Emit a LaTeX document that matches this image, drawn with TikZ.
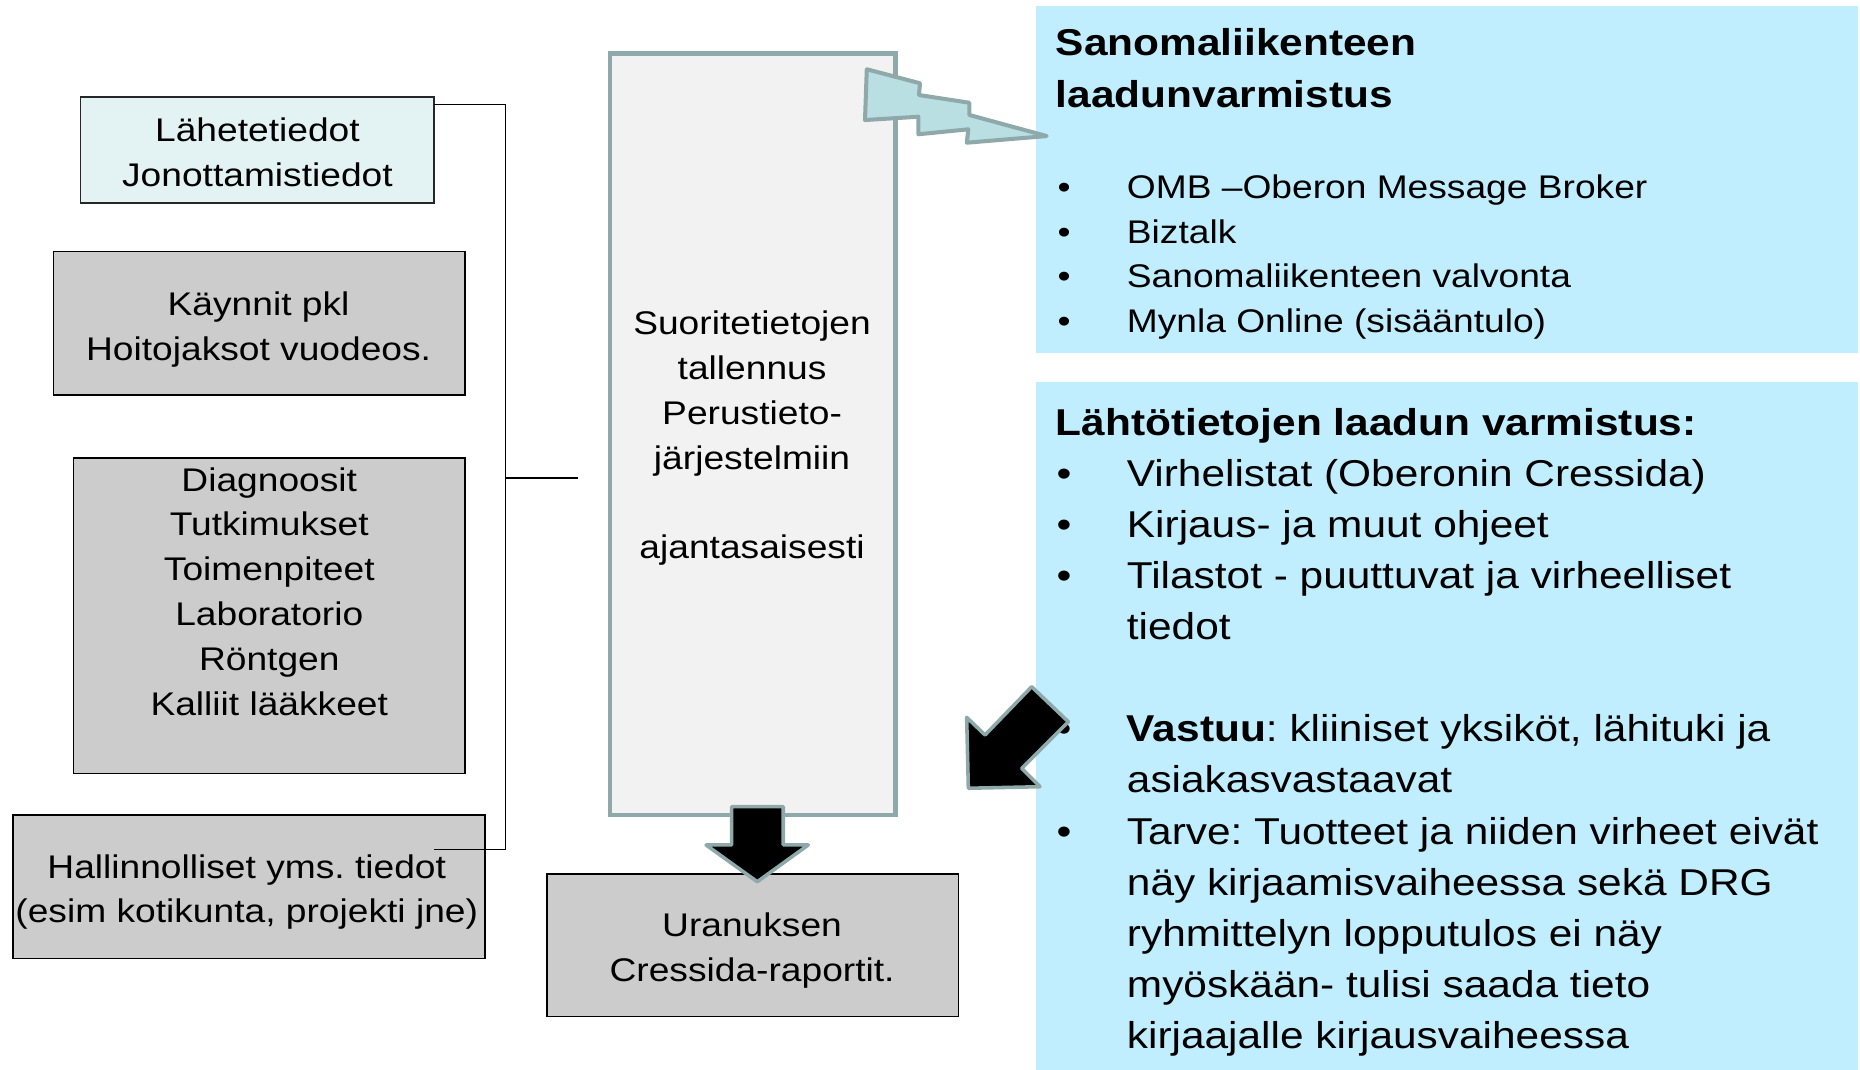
\documentclass[tikz,border=0pt]{standalone}
\usepackage{fontspec}
\setmainfont{Liberation Sans}[FakeStretch=1.135]
\definecolor{panelblue}{RGB}{192,238,254}
\definecolor{boxgray}{RGB}{204,204,204}
\definecolor{lightcyan}{RGB}{227,243,243}
\definecolor{centerfill}{RGB}{242,242,242}
\definecolor{tealedge}{RGB}{143,169,171}
\definecolor{boltfill}{RGB}{185,223,227}
\frenchspacing
\begin{document}
\frenchspacing
\begin{tikzpicture}[x=1pt,y=-1pt,
  smallfont/.style={font=\fontsize{27.6}{37.8}\selectfont},
  bigfont/.style={font=\fontsize{31.5}{43}\selectfont},
  titlefont/.style={font=\fontsize{31.5}{44.5}\selectfont\bfseries},
  txt/.style={inner sep=0, outer sep=0, anchor=base, align=center},
  ltxt/.style={inner sep=0, outer sep=0, anchor=base west, align=left},
  bul/.style={inner sep=0, outer sep=0, anchor=base},
  gbox/.style={draw=black, line width=1.4, fill=boxgray, inner sep=0, outer sep=0, anchor=north west},
  cbox/.style={draw=black!85, line width=1.4, fill=lightcyan, inner sep=0, outer sep=0, anchor=north west},
  mainbox/.style={draw=tealedge, line width=3.6, fill=centerfill, inner sep=0, outer sep=0, anchor=north west},
  panel/.style={fill=panelblue, inner sep=0, outer sep=0, anchor=north west},
  conn/.style={draw=black, line width=1.3},
  blockarrow/.style={fill=black, draw=tealedge, line width=3, line join=round},
  bolt/.style={fill=boltfill, draw=tealedge, line width=3.4, line join=round}
]
\useasboundingbox (0,0) rectangle (1568,902);

% right panels
\node[panel, minimum width=693, minimum height=293] (p1) at (873,5) {};
\node[panel, minimum width=693, minimum height=580] (p2) at (873,322) {};

% left boxes (text nodes anchored at the baseline of their last line)
\node[cbox, minimum width=298, minimum height=89] (lah) at (68,82) {};
\node[txt, smallfont] (laht) at (217,157) {Lähetetiedot\\Jonottamistiedot};

\node[gbox, minimum width=347, minimum height=121] (kay) at (45,212) {};
\node[txt, smallfont] (kayt) at (218,304) {Käynnit pkl\\Hoitojaksot vuodeos.};

\node[gbox, minimum width=330, minimum height=266] (dia) at (62,386) {};
\node[txt, smallfont] (diat) at (227,603) {Diagnoosit\\Tutkimukset\\Toimenpiteet\\Laboratorio\\Röntgen\\Kalliit lääkkeet};

\node[gbox, minimum width=398, minimum height=121] (hal) at (11,687) {};
\node[txt, smallfont] (halt) at (208,778) {Hallinnolliset yms. tiedot\\(esim kotikunta, projekti jne)};

% bracket connector
\coordinate (brtop) at (426,88);
\coordinate (brbot) at (426,716);
\coordinate (brmid) at (426,403);
\coordinate (tickend) at (487,403);
\coordinate (halend) at (366,716);
\draw[conn] ([yshift=-6pt]lah.north east) -- (brtop) -- (brbot) -- (halend);
\draw[conn] (brmid) -- (tickend);

% centre box
\node[mainbox, minimum width=241, minimum height=642] (main) at (514,45) {};
\node[txt, smallfont] (maint) at (634,471) {Suoritetietojen\\tallennus\\Perustieto-\\järjestelmiin\\[37.8pt]ajantasaisesti};

% bottom box
\node[gbox, minimum width=347, minimum height=120] (ura) at (461,737) {};
\node[txt, smallfont] (urat) at (634,827) {Uranuksen\\Cressida-raportit.};

% down block arrow
\draw[blockarrow] (616.8,680) -- (660.3,680) -- (660.3,712.3) -- (681.4,712.3) -- (638.4,743.3) -- (595.2,712.3) -- (616.8,712.3) -- cycle;

% top panel text
\node[ltxt, titlefont] (p1title) at (890,91) {Sanomaliikenteen\\laadunvarmistus};
\node[bul, smallfont] (b1) at (897,167) {•};
\node[ltxt, smallfont] (t1) at (950,167) {OMB –Oberon Message Broker};
\node[bul, smallfont] (b2) at (897,205) {•};
\node[ltxt, smallfont] (t2) at (950,205) {Biztalk};
\node[bul, smallfont] (b3) at (897,242) {•};
\node[ltxt, smallfont] (t3) at (950,242) {Sanomaliikenteen valvonta};
\node[bul, smallfont] (b4) at (897,280) {•};
\node[ltxt, smallfont] (t4) at (950,280) {Mynla Online (sisääntulo)};

% lightning callout
\draw[bolt] (730.7,58.4) -- (775.6,70.2) -- (774.7,80.1) -- (817.1,86.6) -- (817.1,96.9) -- (882.4,114.7) -- (815.0,120.3) -- (816.3,109.0) -- (774.2,113.2) -- (774.2,98.4) -- (729.2,101.2) -- cycle;

% bottom panel text
\node[ltxt, titlefont] (p2title) at (890,367) {Lähtötietojen laadun varmistus:};
\node[bul, bigfont] (c1) at (897,410) {•};
\node[ltxt, bigfont] (u1) at (950,410) {Virhelistat (Oberonin Cressida)};
\node[bul, bigfont] (c2) at (897,453) {•};
\node[ltxt, bigfont] (u2) at (950,453) {Kirjaus- ja muut ohjeet};
\node[bul, bigfont] (c3) at (897,496) {•};
\node[ltxt, bigfont] (u3) at (950,539) {Tilastot - puuttuvat ja virheelliset\\tiedot};
\node[bul, bigfont] (c4) at (897,625) {•};
\node[ltxt, bigfont] (u4) at (950,668) {\textbf{Vastuu}: kliiniset yksiköt, lähituki ja\\asiakasvastaavat};
\node[bul, bigfont] (c5) at (897,712) {•};
\node[ltxt, bigfont] (u5) at (950,884) {Tarve: Tuotteet ja niiden virheet eivät\\näy kirjaamisvaiheessa sekä DRG\\ryhmittelyn lopputulos ei näy\\myöskään- tulisi saada tieto\\kirjaajalle kirjausvaiheessa};

% diagonal block arrow
\draw[blockarrow] (816.3,664.5) -- (814.9,604.7) -- (830.4,619.6) -- (869.7,578.9) -- (900.6,608.4) -- (861.3,647.7) -- (876.7,663.2) -- cycle;
\end{tikzpicture}
\end{document}
